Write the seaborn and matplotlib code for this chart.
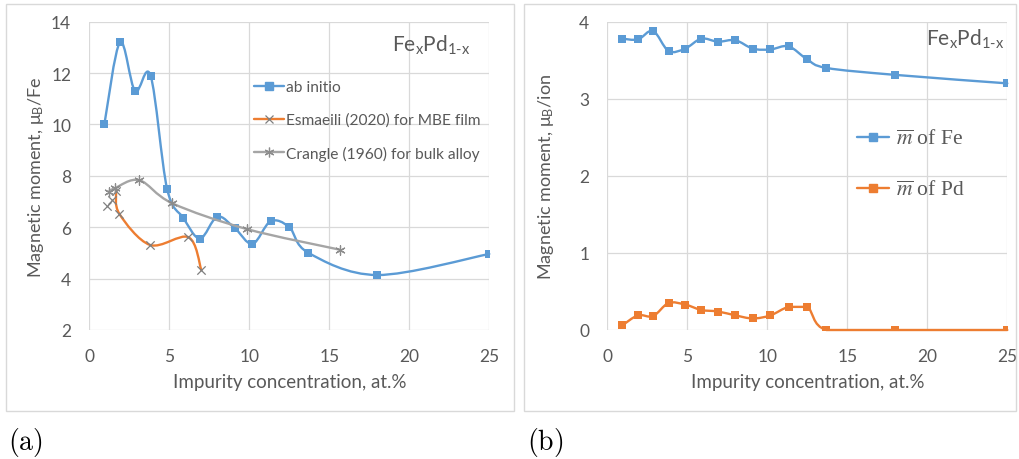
import numpy as np
import matplotlib

matplotlib.use("Agg")
import matplotlib.pyplot as plt
import seaborn as sns
from matplotlib.path import Path
from matplotlib.patches import PathPatch, Rectangle
from matplotlib.lines import Line2D
from matplotlib.font_manager import FontProperties

# ===================== data =====================
conc = [0.94, 1.92, 2.86, 3.83, 4.86, 5.88, 6.92, 8.0, 9.1, 10.2, 11.33, 12.5, 13.7, 18.0, 25.0]
m_ab_initio = [10.0, 13.2, 11.3, 11.9, 7.5, 6.36, 5.56, 6.41, 5.96, 5.35, 6.23, 6.0, 5.0, 4.14, 4.96]

esm_x = [1.1, 1.4, 1.67, 1.88, 3.8, 6.2, 7.0]
esm_y = [6.82, 7.07, 7.4, 6.52, 5.31, 5.61, 4.34]
esm_line_from = 2   # first two points drawn without a connecting line

cra_x = [1.23, 1.6, 3.13, 5.19, 9.84, 15.7]
cra_y = [7.39, 7.52, 7.83, 6.93, 5.93, 5.12]

m_fe = [3.78, 3.77, 3.88, 3.62, 3.65, 3.78, 3.74, 3.76, 3.65, 3.64, 3.68, 3.51, 3.40, 3.31, 3.20]
m_pd = [0.06, 0.19, 0.18, 0.35, 0.33, 0.26, 0.24, 0.19, 0.15, 0.19, 0.30, 0.30, 0.0, 0.0, 0.0]

labels_a = ["ab initio", "Esmaeili (2020) for MBE film", "Crangle (1960) for bulk alloy"]
labels_b = [r"$\overline{m}$ of Fe", r"$\overline{m}$ of Pd"]

BLUE = "#5B9BD5"
ORANGE = "#ED7D31"
GRAY = "#A5A5A5"
GRID = "#D9D9D9"
TXT = "#595959"

sns.set_theme(style="white")
plt.rcParams["font.family"] = ["Lato", "DejaVu Sans"]
plt.rcParams["mathtext.fontset"] = "custom"
plt.rcParams["mathtext.rm"] = "Lato"
plt.rcParams["mathtext.it"] = "Lato:italic"
plt.rcParams["mathtext.bf"] = "Lato:bold"

FORMULA = r"Fe$_\mathregular{x}$Pd$_{\text{1-x}}$"


def smooth_path(x, y):
    # Excel-like smoothed line: Catmull-Rom segments as cubic Beziers
    p = np.column_stack([x, y]).astype(float)
    n = len(p)
    verts = [p[0]]
    codes = [Path.MOVETO]
    for i in range(n - 1):
        p0 = p[i - 1] if i > 0 else p[i]
        p3 = p[i + 2] if i + 2 < n else p[i + 1]
        c1 = p[i] + (p[i + 1] - p0) / 6
        c2 = p[i + 1] - (p3 - p[i]) / 6
        if p[i, 1] == p[i + 1, 1]:  # flat run stays flat
            c1[1] = c2[1] = p[i, 1]
        verts += [c1, c2, p[i + 1]]
        codes += [Path.CURVE4] * 3
    return Path(verts, codes)


def add_curve(ax, x, y, color, z):
    ax.add_patch(PathPatch(smooth_path(x, y), fill=False, edgecolor=color, clip_on=False,
                           lw=1.7, capstyle="round", joinstyle="round", zorder=z))


def style_axes(ax, ylabel, ylab_x):
    ax.set_xlim(0, 25)
    ax.set_xticks(range(0, 26, 5))
    ax.grid(True, color=GRID, lw=0.9)
    ax.set_axisbelow(True)
    for s in ax.spines.values():
        s.set_visible(False)
    ax.tick_params(length=0, pad=13, labelsize=12.5, labelcolor=TXT)
    ax.set_xlabel("Impurity concentration, at.%", fontsize=13.5, color=TXT)
    ax.set_ylabel(ylabel, fontsize=13, color=TXT)
    ax.xaxis.set_label_coords(0.5, -0.138)
    ax.yaxis.set_label_coords(ylab_x, 0.5)


W, H = 1020, 460
fig = plt.figure(figsize=(W / 100, H / 100), dpi=100)

# panel frames
for x0, x1 in [(6, 514), (524, 1016)]:
    fig.add_artist(Rectangle((x0 / W, 1 - 412 / H), (x1 - x0) / W, (412 - 5) / H,
                             transform=fig.transFigure, fill=False, edgecolor=GRID, lw=1))

ax1 = fig.add_axes([89.3 / W, 1 - 331 / H, 400 / W, 308.3 / H])
ax2 = fig.add_axes([607.3 / W, 1 - 331 / H, 400 / W, 308.3 / H])

# ===================== (a) =====================
add_curve(ax1, conc, m_ab_initio, BLUE, 2)
sns.scatterplot(x=conc, y=m_ab_initio, ax=ax1, marker="s", color=BLUE, s=30,
                linewidth=0, zorder=3)
add_curve(ax1, esm_x[esm_line_from:], esm_y[esm_line_from:], ORANGE, 4)
sns.scatterplot(x=esm_x, y=esm_y, ax=ax1, marker="x", color="#7F7F7F", s=36,
                linewidth=0.9, zorder=5)
add_curve(ax1, cra_x, cra_y, GRAY, 6)
sns.scatterplot(x=cra_x, y=cra_y, ax=ax1, marker=(6, 2, 0), color="#8C8C8C", s=45,
                linewidth=0.9, zorder=7)
ax1.set_ylim(2, 14)
ax1.set_yticks(range(2, 15, 2))
style_axes(ax1, r"Magnetic moment, μ$_\mathregular{B}$/Fe", (46 - 89.3) / 400)
fig.text(470 / W, 1 - 52 / H, FORMULA, ha="right", va="baseline", fontsize=15, color=TXT)

handles_a = [
    Line2D([], [], color=BLUE, lw=1.7, marker="s", ms=5.5, mec=BLUE, mfc=BLUE),
    Line2D([], [], color=ORANGE, lw=1.7, marker="x", ms=6, mec="#7F7F7F", mew=0.9),
    Line2D([], [], color=GRAY, lw=1.7, marker=(6, 2, 0), ms=7, mec="#8C8C8C", mew=0.9),
]
ax1.legend(handles_a, labels_a, loc="upper left", bbox_to_anchor=(254 / W, 1 - 81 / H),
           bbox_transform=fig.transFigure, frameon=False, borderpad=0, borderaxespad=0,
           handlelength=1.9, handletextpad=0.15, labelspacing=1.2, fontsize=11.2,
           labelcolor=TXT)

# ===================== (b) =====================
add_curve(ax2, conc, m_fe, BLUE, 2)
sns.scatterplot(x=conc, y=m_fe, ax=ax2, marker="s", color=BLUE, s=30, linewidth=0, zorder=3)
add_curve(ax2, conc, m_pd, ORANGE, 4)
sns.scatterplot(x=conc, y=m_pd, ax=ax2, marker="s", color=ORANGE, s=30, linewidth=0, zorder=5)
ax2.set_ylim(0, 4)
ax2.set_yticks(range(0, 5))
style_axes(ax2, r"Magnetic moment, μ$_\mathregular{B}$/ion", (556 - 607.3) / 400)
fig.text(1004 / W, 1 - 46 / H, FORMULA, ha="right", va="baseline", fontsize=15, color=TXT)

handles_b = [
    Line2D([], [], color=BLUE, lw=1.7, marker="s", ms=5.5, mec=BLUE, mfc=BLUE),
    Line2D([], [], color=ORANGE, lw=1.7, marker="s", ms=5.5, mec=ORANGE, mfc=ORANGE),
]
ax2.legend(handles_b, labels_b, loc="upper left", bbox_to_anchor=(857 / W, 1 - 130 / H),
           bbox_transform=fig.transFigure, frameon=False, borderpad=0, borderaxespad=0,
           handlelength=1.5, handletextpad=0.3, labelspacing=1.45,
           prop=FontProperties(family="Liberation Serif", size=15.5, math_fontfamily="stix"),
           labelcolor=TXT)

# panel tags
for x, tag in [(8, "(a)"), (527, "(b)")]:
    fig.text(x / W, 1 - 443 / H, r"$\mathrm{" + tag + "}$", ha="left", va="center",
             fontsize=20, color="black", math_fontfamily="cm")

fig.savefig("out.png", dpi=100)
